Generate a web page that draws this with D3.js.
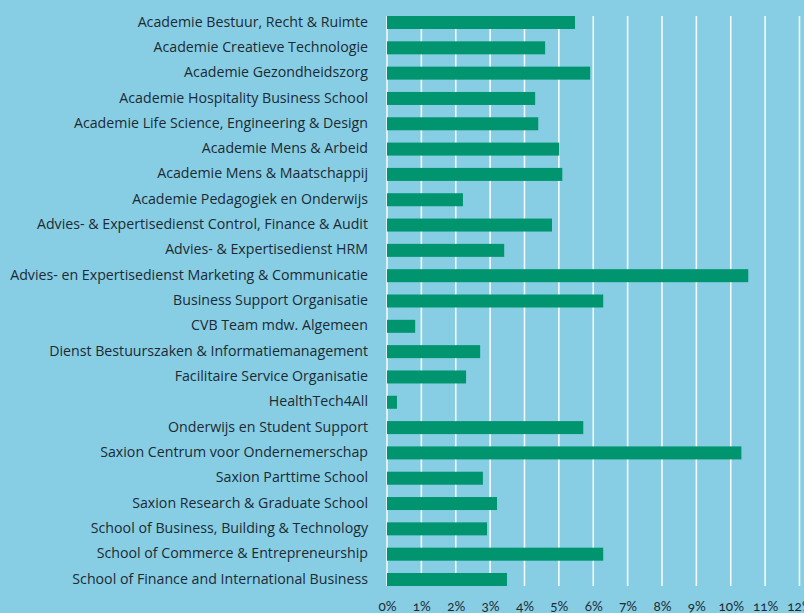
<!DOCTYPE html>
<html>
<head>
<meta charset="utf-8">
<script src="https://cdn.jsdelivr.net/npm/d3@7"></script>
<style>
  body { margin: 0; background: #87cee4; }
  svg { display: block; }
  .tick text { fill: #1c2a33; }
</style>
</head>
<body>
<div class="container"></div>
<script>
const width = 804;
const height = 613;
const margin = { top: 16, bottom: 27, left: 387, right: 5 }

const afdelingen = [
    "Academie Bestuur, Recht & Ruimte",
    "Academie Creatieve Technologie",
    "Academie Gezondheidszorg",
    "Academie Hospitality Business School",
    "Academie Life Science, Engineering & Design",
    "Academie Mens & Arbeid",
    "Academie Mens & Maatschappij",
    "Academie Pedagogiek en Onderwijs",
    "Advies- & Expertisedienst Control, Finance & Audit",
    "Advies- & Expertisedienst HRM",
    "Advies- en Expertisedienst Marketing & Communicatie",
    "Business Support Organisatie",
    "CVB Team mdw. Algemeen",
    "Dienst Bestuurszaken & Informatiemanagement",
    "Facilitaire Service Organisatie",
    "HealthTech4All",
    "Onderwijs en Student Support",
    "Saxion Centrum voor Ondernemerschap",
    "Saxion Parttime School",
    "Saxion Research & Graduate School",
    "School of Business, Building & Technology",
    "School of Commerce & Entrepreneurship",
    "School of Finance and International Business"
]

const percentages = [5.47, 4.6, 5.91, 4.31, 4.4, 5.01, 5.1, 2.21, 4.8, 3.41, 10.51,
    6.29, 0.82, 2.71, 2.3, 0.29, 5.71, 10.31, 2.79, 3.2, 2.91, 6.29, 3.49]

const xTicks = [0, 1, 2, 3, 4, 5, 6, 7, 8, 9, 10, 11, 12]

const dataset = afdelingen.map((naam, i) => ({ naam: naam, pct: percentages[i] }))

const xScale = d3.scaleLinear()
    .domain([0, 12])
    .range([margin.left, 799.5]);

const yScale = d3.scaleBand()
    .domain(afdelingen)
    .range([margin.top, height - margin.bottom])
    .paddingInner(0.486)
    .paddingOuter(0);

const svg = d3.select(".container")
    .append("svg")
    .attr("width", width)
    .attr("height", height);

svg.append("rect")
    .attr("width", width)
    .attr("height", height)
    .attr("fill", "#87cee4");

// verticale rasterlijnen
svg.append("g")
    .selectAll("line")
    .data(xTicks)
    .join("line")
    .attr("x1", d => xScale(d))
    .attr("x2", d => xScale(d))
    .attr("y1", margin.top)
    .attr("y2", height - margin.bottom)
    .attr("stroke", "#ffffff")
    .attr("stroke-width", 1.6)
    .attr("opacity", 0.9);

svg.append("g")
    .selectAll("rect")
    .data(dataset)
    .join("rect")
    .attr("x", xScale(0))
    .attr("y", d => yScale(d.naam))
    .attr("width", d => xScale(d.pct) - xScale(0))
    .attr("height", yScale.bandwidth())
    .attr("fill", "#00956f");

const yAxis = d3.axisLeft(yScale).tickSize(0).tickPadding(19);

svg.append("g")
    .attr("transform", `translate(${margin.left}, -0.5)`)
    .call(yAxis)
    .call(g => g.select(".domain").remove())
    .attr("font-family", "'Open Sans', sans-serif")
    .attr("font-size", "14.2px");

const xAxis = d3.axisBottom(xScale)
    .tickValues(xTicks)
    .tickFormat(d => d + "%")
    .tickSize(0)
    .tickPadding(0);

svg.append("g")
    .attr("transform", `translate(0, 601)`)
    .call(xAxis)
    .call(g => g.select(".domain").remove())
    .attr("font-family", "Lato, sans-serif")
    .attr("font-size", "13.5px")
    .style("font-variant-numeric", "oldstyle-nums");
</script>
</body>
</html>
